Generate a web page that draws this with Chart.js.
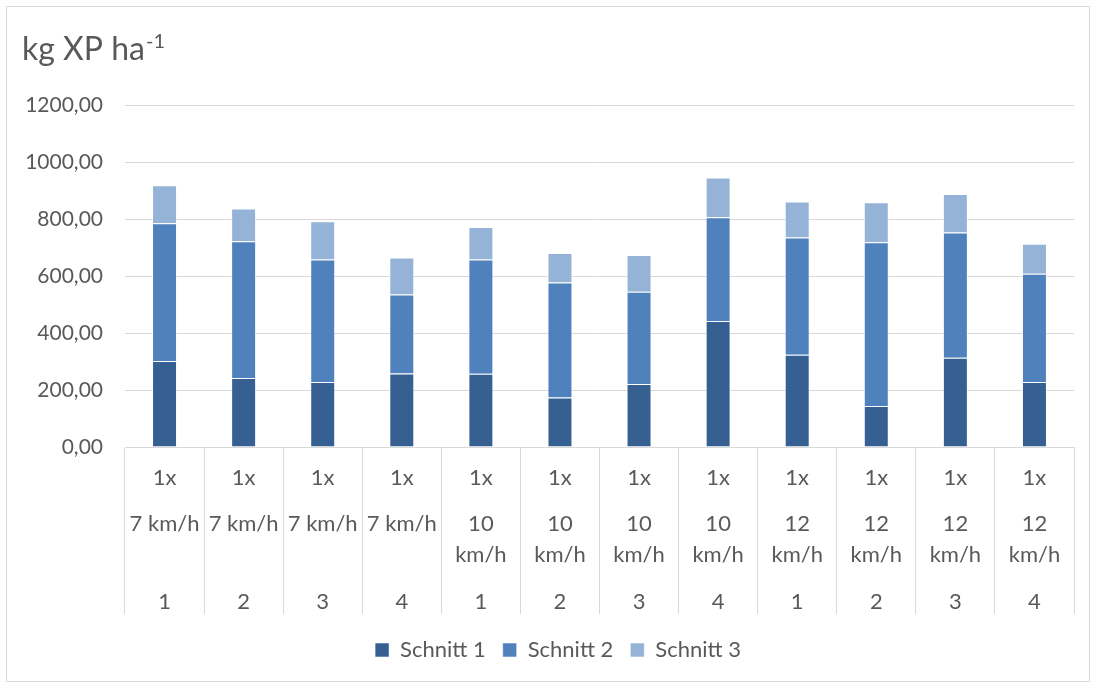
<!DOCTYPE html>
<html>
<head>
<meta charset="utf-8">
<script src="https://cdn.jsdelivr.net/npm/chart.js@4/dist/chart.umd.min.js"></script>
<style>
  html, body { margin: 0; padding: 0; background: #ffffff; }
  canvas { display: block; }
</style>
</head>
<body>
<canvas id="chart" width="1095" height="686"></canvas>
<script>
// Category levels (outer to inner rows of the category axis)
const passes = ['1x', '1x', '1x', '1x', '1x', '1x', '1x', '1x', '1x', '1x', '1x', '1x'];
const speeds = ['7 km/h', '7 km/h', '7 km/h', '7 km/h', '10 km/h', '10 km/h', '10 km/h', '10 km/h', '12 km/h', '12 km/h', '12 km/h', '12 km/h'];
const replicates = ['1', '2', '3', '4', '1', '2', '3', '4', '1', '2', '3', '4'];

// Crude protein yield per cut (kg XP ha-1)
const schnitt1 = [302, 242, 228, 258, 257, 174, 221, 442, 324, 144, 313, 228];
const schnitt2 = [483, 480, 430, 277, 401, 403, 324, 364, 411, 574, 440, 380];
const schnitt3 = [133, 115, 134, 130, 114, 104, 129, 140, 126, 141, 135, 105];

const seriesNames = ['Schnitt 1', 'Schnitt 2', 'Schnitt 3'];
const yMin = 0, yMax = 1200, yStep = 200;

const FONT = 'Lato, "Open Sans", "Noto Sans", sans-serif';
const TEXT = '#595959';
const GRID = '#d9d9d9';

// Multi-line category labels: pass row, speed row (wrapped when wide), replicate row
const labels = passes.map((p, i) => {
  const sp = speeds[i].length > 6 ? speeds[i].split(' ') : [speeds[i]];
  return [p, '', '', sp[0], '', sp[1] || '', '', '', replicates[i]];
});

const frame = {
  id: 'frame',
  afterLayout(chart) {
    // centre the legend on the whole chart frame rather than the padded box
    const lg = chart.legend;
    if (lg) { lg.left += 21; lg.right += 21; }
  },
  beforeDraw(chart) {
    const ctx = chart.ctx;
    ctx.save();
    ctx.fillStyle = '#ffffff';
    ctx.fillRect(0, 0, chart.width, chart.height);
    ctx.strokeStyle = GRID;
    ctx.lineWidth = 1;
    ctx.strokeRect(6.5, 6.5, 1083, 675);
    ctx.restore();
  },
  afterDraw(chart) {
    const ctx = chart.ctx;
    ctx.save();
    ctx.fillStyle = TEXT;
    ctx.textBaseline = 'alphabetic';
    ctx.font = '32px ' + FONT;
    ctx.fillText('kg XP ha', 22, 60);
    const w = ctx.measureText('kg XP ha').width;
    ctx.font = '20px ' + FONT;
    ctx.fillText('-1', 22 + w + 1, 48);
    ctx.restore();
  }
};

new Chart(document.getElementById('chart'), {
  type: 'bar',
  data: {
    labels: labels,
    datasets: [
      { label: seriesNames[0], data: schnitt1, backgroundColor: '#376092' },
      { label: seriesNames[1], data: schnitt2, backgroundColor: '#4f81bd' },
      { label: seriesNames[2], data: schnitt3, backgroundColor: '#95b3d7' }
    ].map(d => Object.assign(d, {
      borderColor: 'rgba(255,255,255,0.55)',
      borderWidth: 1,
      barPercentage: 0.316,
      categoryPercentage: 1
    }))
  },
  options: {
    responsive: false,
    animation: false,
    devicePixelRatio: 1,
    layout: { padding: { top: 105, right: 21, left: 0, bottom: 15 } },
    plugins: {
      legend: {
        position: 'bottom',
        labels: {
          boxWidth: 14,
          boxHeight: 14,
          padding: 17,
          color: TEXT,
          font: { family: FONT, size: 22 }
        }
      },
      tooltip: { enabled: false }
    },
    scales: {
      x: {
        stacked: true,
        afterFit(s) { s.height = 175; },
        grid: {
          offset: true,
          drawOnChartArea: false,
          drawTicks: true,
          tickLength: 167,
          color: GRID,
          tickColor: GRID
        },
        border: { display: true, color: GRID },
        ticks: {
          autoSkip: false,
          maxRotation: 0,
          padding: -144,
          color: TEXT,
          font: { family: FONT, size: 22, lineHeight: '15.5px' }
        }
      },
      y: {
        stacked: true,
        min: yMin,
        max: yMax,
        afterFit(s) { s.width = 125; },
        grid: { color: GRID, drawTicks: false },
        border: { display: false },
        ticks: {
          stepSize: yStep,
          padding: 22,
          color: TEXT,
          font: { family: FONT, size: 21 },
          callback: v => v.toFixed(2).replace('.', ',')
        }
      }
    }
  },
  plugins: [frame]
});
</script>
</body>
</html>
